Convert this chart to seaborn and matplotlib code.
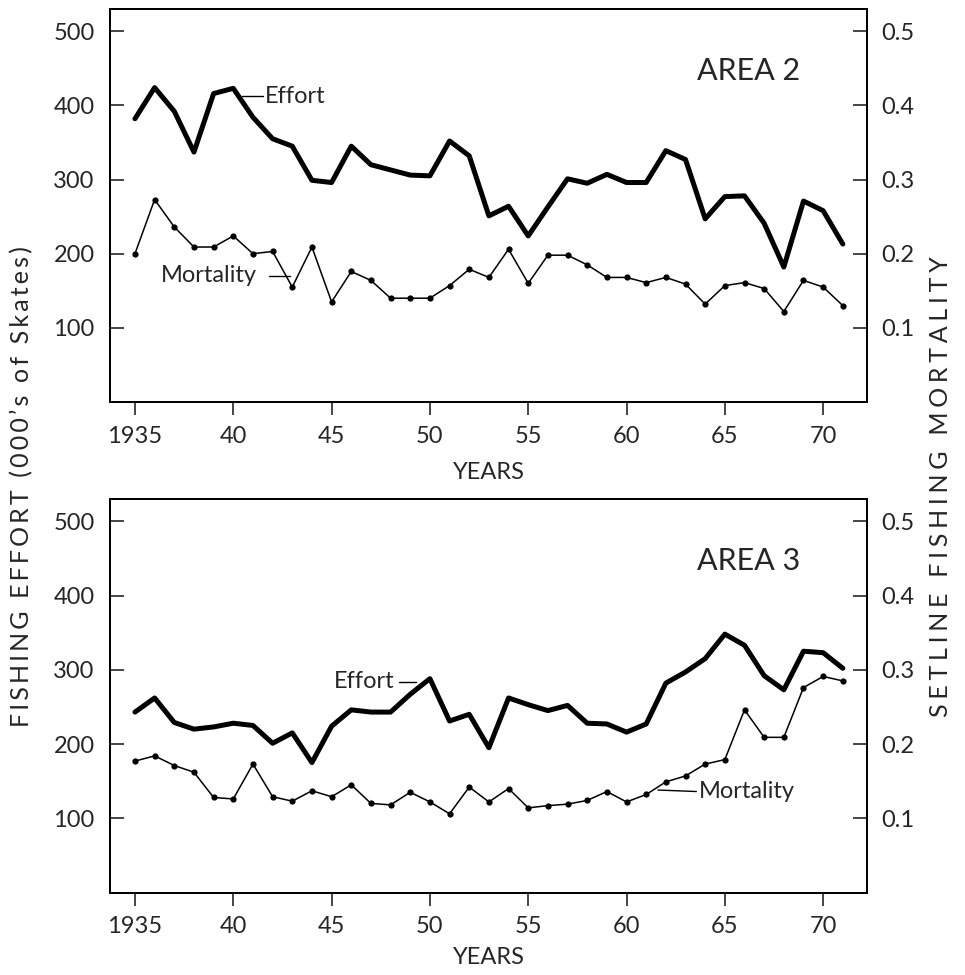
import numpy as np
import pandas as pd
import matplotlib
matplotlib.use("Agg")
import matplotlib.pyplot as plt
import seaborn as sns

# valores
anos = list(range(1935, 1972))

esforco_area2 = [382, 424, 392, 337, 416, 423, 384, 355, 345, 299,
                 296, 345, 320, 313, 306, 305, 352, 332, 251, 264,
                 224, 263, 301, 295, 307, 296, 296, 339, 327, 247,
                 277, 278, 241, 182, 271, 258, 213]
mortal_area2 = [0.200, 0.273, 0.236, 0.209, 0.209, 0.224, 0.200, 0.203, 0.155, 0.209,
                0.135, 0.176, 0.164, 0.140, 0.140, 0.140, 0.157, 0.179, 0.168, 0.206,
                0.160, 0.198, 0.198, 0.185, 0.168, 0.168, 0.161, 0.168, 0.159, 0.132,
                0.157, 0.161, 0.153, 0.122, 0.164, 0.155, 0.130]

esforco_area3 = [243, 262, 229, 220, 223, 228, 225, 201, 215, 175,
                 224, 246, 243, 243, 267, 288, 231, 240, 195, 262,
                 253, 245, 252, 228, 227, 216, 227, 282, 297, 315,
                 348, 333, 292, 273, 325, 323, 302]
mortal_area3 = [0.177, 0.184, 0.171, 0.162, 0.128, 0.126, 0.173, 0.129, 0.123, 0.137,
                0.129, 0.145, 0.120, 0.118, 0.135, 0.122, 0.106, 0.142, 0.122, 0.140,
                0.114, 0.117, 0.119, 0.124, 0.136, 0.122, 0.132, 0.149, 0.157, 0.173,
                0.179, 0.246, 0.209, 0.209, 0.276, 0.291, 0.285]

ticks_x = [1935, 1940, 1945, 1950, 1955, 1960, 1965, 1970]
labels_x = ['1935', '40', '45', '50', '55', '60', '65', '70']
ticks_esq = [100, 200, 300, 400, 500]
ticks_dir = [0.1, 0.2, 0.3, 0.4, 0.5]


def espacar(s, sep='\u2009'):
    # letras bem espaçadas como no original
    return sep.join(s)


sns.set_style("ticks")
plt.rcParams['font.family'] = ['Lato', 'DejaVu Sans']

fig = plt.figure(figsize=(9.65, 9.75), dpi=100)
esq, larg = 110 / 965, (867 - 110) / 965
ax1 = fig.add_axes([esq, 1 - 402 / 975, larg, (402 - 9) / 975])
ax2 = fig.add_axes([esq, 1 - 892.5 / 975, larg, (892.5 - 499) / 975])

paineis = [
    (ax1, esforco_area2, mortal_area2, 'AREA 2', 11,
     dict(ef_txt=(1941.6, 412), ef_ha='left', ef_lin=([1940.45, 1941.5], [412, 412]),
          mo_txt=(1941.2, 170), mo_ha='right', mo_lin=([1941.8, 1942.9], [170, 170]))),
    (ax2, esforco_area3, mortal_area3, 'AREA 3', 7,
     dict(ef_txt=(1948.2, 284), ef_ha='right', ef_lin=([1948.45, 1949.3], [284, 284]),
          mo_txt=(1963.7, 136), mo_ha='left', mo_lin=([1961.6, 1963.55], [138, 136]))),
]

for ax, esf, mort, titulo, lpad, ann in paineis:
    df = pd.DataFrame({'ano': anos, 'esforco': esf, 'mort': mort})
    sns.lineplot(data=df, x='ano', y='esforco', ax=ax, color='black', linewidth=3.6)
    axr = ax.twinx()
    sns.lineplot(data=df, x='ano', y='mort', ax=axr, color='black', linewidth=1.1,
                 marker='o', markersize=4.5, markeredgewidth=0)

    ax.set_xlim(1933.73, 1972.23)
    ax.set_ylim(0, 530)
    axr.set_ylim(0, 0.530)
    ax.set_xticks(ticks_x)
    ax.set_xticklabels(labels_x)
    ax.set_yticks(ticks_esq)
    axr.set_yticks(ticks_dir)
    axr.set_yticklabels([str(v) for v in ticks_dir])

    ax.tick_params(axis='x', direction='out', length=9, width=1.2, pad=8, labelsize=17)
    ax.tick_params(axis='y', direction='in', length=10, width=1.2, pad=11, labelsize=17)
    axr.tick_params(axis='y', direction='in', length=10, width=1.2, pad=10, labelsize=17)
    for a in (ax, axr):
        for s in a.spines.values():
            s.set_visible(True)
            s.set_linewidth(1.4)
            s.set_color('black')

    ax.set_ylabel('')
    axr.set_ylabel('')
    ax.set_xlabel('YEARS', fontsize=17, labelpad=lpad)

    ax.text(1963.6, 447, titulo, fontsize=22, va='center', ha='left')
    ax.text(*ann['ef_txt'], 'Effort', fontsize=17, va='center', ha=ann['ef_ha'])
    ax.plot(*ann['ef_lin'], color='black', linewidth=1.0)
    ax.text(*ann['mo_txt'], 'Mortality', fontsize=17, va='center', ha=ann['mo_ha'])
    ax.plot(*ann['mo_lin'], color='black', linewidth=1.0)

fig.text(22 / 965, 1 - 487 / 975, espacar("FISHING EFFORT (000’s of Skates)"),
         rotation=90, fontsize=18, va='center', ha='center')
fig.text(940 / 965, 1 - 487 / 975, espacar('SETLINE FISHING MORTALITY', '\u2009\u200a'),
         rotation=90, fontsize=18, va='center', ha='center')

fig.savefig('out.png', dpi=100)
